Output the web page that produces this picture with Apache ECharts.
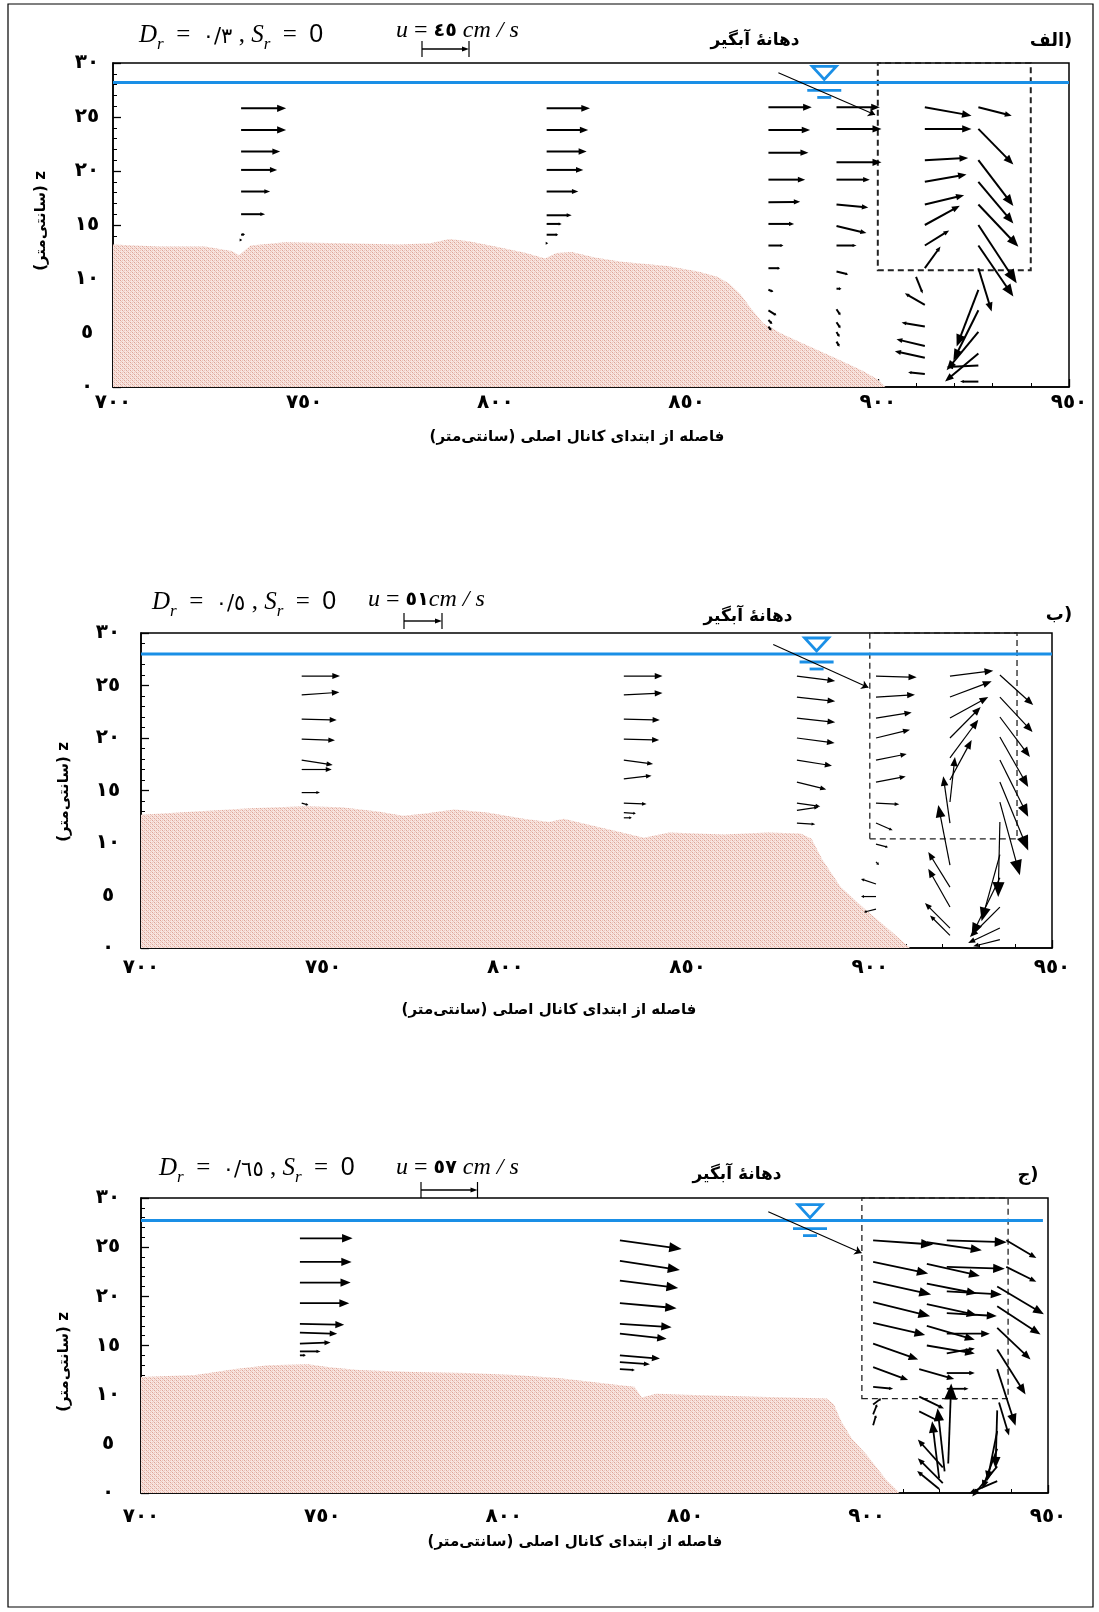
<!DOCTYPE html>
<html><head><meta charset="utf-8">
<script src="https://cdn.jsdelivr.net/npm/echarts@6/dist/echarts.min.js"></script>
<style>html,body{margin:0;padding:0;background:#fff}#c{width:1099px;height:1612px}</style>
</head><body><div id="c"></div>
<script>
// ---------------- DATA ----------------
const xMin = 700, xMax = 950, zMin = 0, zMax = 30;
const xTickStep = 50, zTickStep = 5;

// bed profiles [x (cm), z (cm)]
const bed1 = [[700,13.2],[712,13.0],[724,13.0],[731,12.6],[733,12.2],[736,13.1],[745,13.4],[760,13.3],[775,13.2],[783,13.3],[788,13.7],[793,13.5],[800,13.0],[808,12.4],[813,11.9],[816,12.4],[820,12.5],[826,12.0],[833,11.6],[845,11.2],[853,10.7],[858,10.2],[861,9.6],[864,8.6],[867,7.2],[870,5.9],[875,4.9],[880,4.1],[890,2.5],[896,1.5],[900,0.7],[902,0]];
const bed2 = [[700,12.7],[715,13.0],[730,13.3],[745,13.5],[755,13.4],[765,13.0],[772,12.6],[778,12.8],[786,13.2],[795,12.9],[805,12.3],[812,12.0],[816,12.3],[822,11.8],[832,11.0],[838,10.5],[845,11.0],[860,10.8],[872,11.0],[881,10.9],[884,10.4],[887,8.4],[892,5.8],[899,3.6],[905.5,1.7],[910,0.3],[911,0]];
const bed3 = [[700,11.8],[715,12.0],[726,12.6],[735,13.0],[746,13.1],[752,12.8],[760,12.5],[775,12.3],[790,12.2],[803,12.0],[815,11.7],[831,11.0],[836,10.8],[838,9.7],[842,10.1],[850,10.0],[870,9.8],[889,9.6],[891,9.0],[893,7.3],[896,5.5],[900,3.9],[905.5,1.3],[908,0.4],[909,0]];

// velocity vectors [x (cm), z (cm), u (cm/s), w (cm/s)]
const vec1 = [
 [733.5,25.8,43.1,0],[733.5,23.8,43.1,0],[733.5,21.8,37.4,0],[733.5,20.1,34.5,0],[733.5,18.1,27.8,0],[733.5,16.0,23.0,0],[733.5,14.1,3.8,0.5],[733.5,13.6,1.0,0],
 [813.4,25.8,41.5,0],[813.4,23.8,39.8,0],[813.4,21.8,38.3,0],[813.4,20.1,35.1,0],[813.4,18.1,30.3,0],[813.4,15.9,24.0,0],[813.4,15.1,14.4,0],[813.4,14.1,11.1,0],[813.4,13.3,1.5,0],
 [871.4,25.9,41.5,0],[871.4,23.8,39.9,0],[871.4,21.7,38.3,0],[871.4,19.2,35.2,0],[871.4,17.1,30.4,0.5],[871.4,15.1,24.6,0],[871.4,13.1,14.4,0],[871.4,11.0,11.2,0],[871.4,9.0,4.8,-1.9],[871.4,7.1,7.7,-4.8],[871.4,6.2,3.8,-3.8],[871.4,5.6,2.9,-3.8],
 [889.2,25.9,41.5,0],[889.2,23.9,43.1,0],[889.2,20.8,43.1,0],[889.2,19.2,31.9,0],[889.2,16.9,30.4,-2.9],[889.2,14.9,28.7,-6.7],[889.2,13.1,19.2,0],[889.2,10.7,11.2,-2.9],[889.2,9.1,4.8,0],[889.2,7.2,3.8,-5.7],[889.2,6.0,3.8,-5.7],[889.2,5.1,2.9,-4.8],[889.2,4.2,2.9,-4.8],
 [912.3,25.9,44.7,-8.0],[912.3,23.9,44.7,0],[912.3,21.0,41.5,2.2],[912.3,19.0,39.9,7.0],[912.3,16.9,37.6,8.9],[912.3,15.0,33.5,18.5],[912.3,13.1,23.3,14.4],[912.3,11.0,15.0,20.8],[910,10.2,6.4,-16.0],[912.3,7.6,-19.2,11.2],[912.3,5.6,-22.3,3.8],[912.3,3.8,-27.1,6.4],[912.3,2.7,-28.7,6.4],[912.3,1.2,-16.0,1.6],
 [926.3,25.9,31.9,-8.0],[926.3,23.9,33.5,-34.2],[926.3,21.0,33.5,-43.8],[926.3,19.0,33.5,-39.9],[926.3,16.9,38.3,-40.5],[926.3,15.0,36.7,-55.8],[926.3,13.1,33.5,-48.9],[926.3,11.0,12.7,-41.5],[926.3,9.0,-20.8,-54.3],[926.3,7.1,-23.9,-47.9],[926.3,5.1,-30.4,-36.7],[926.3,3.1,-31.9,-26.8],[926.3,2.0,-30.4,-1.6],[926.3,0.5,-17.5,0]
];
const vec2 = [
 [744.1,25.9,51.4,0],[744.1,24.1,50.6,3.6],[744.1,21.8,47.0,-1.3],[744.1,19.9,44.7,-1.7],[744.1,17.9,41.6,-6.7],[744.1,17.0,40.3,0],[744.1,14.8,24.6,0],[744.1,13.8,9.0,-2.7],
 [832.5,25.9,51.9,0],[832.5,24.1,51.9,2.7],[832.5,21.8,48.3,-1.3],[832.5,19.9,47.4,-1.3],[832.5,17.9,39.3,-5.4],[832.5,16.1,37.2,4.4],[832.5,13.8,30.5,-1.3],[832.5,12.9,16.1,-1.3],[832.5,12.4,10.7,0],
 [880,25.9,51.4,-6.7],[880,23.9,51.4,-5.8],[880,21.9,51.4,-5.8],[880,20.0,50.6,-6.7],[880,17.9,47.0,-7.6],[880,15.8,39.3,-9.8],[880,13.8,31.3,-4.4],[880,13.1,29.1,4.4],[880,11.9,24.6,-1.7],
 [901.7,25.9,54.6,-1.7],[901.7,23.9,52.3,3.1],[901.7,21.9,47.9,7.6],[901.7,20.0,45.6,11.1],[901.7,17.9,41.2,8.1],[901.7,15.8,39.9,7.6],[901.7,13.8,31.3,-1.7],[901.7,11.9,22.4,-9.8],[901.7,9.9,16.1,-4.4],[901.7,8.2,4,-4],[901.7,6.1,-20.1,6.7],[901.7,4.9,-20.1,0],[901.7,3.7,-16.1,-4],
 [922,25.9,58.1,7.1],[922,23.9,56.0,21.1],[922,21.9,51.4,28.2],[922,20.0,41.2,41.6],[922,18.1,38.0,51.4],[922,16.0,29.1,53.7],[922,13.9,6.7,60.4],[922,11.9,-9.0,62.7],[922,7.9,-15.7,80.5],[922,5.8,-29.1,47.0],[922,3.9,-29.1,51.4],[922,1.9,-33.6,33.6],[922,1.2,-26.8,26.8],
 [935.7,26.0,44.7,-40.3],[935.7,23.9,43.9,-47.0],[935.7,22.0,40.3,-53.7],[935.7,20.1,38.0,-67.1],[935.7,17.9,38.0,-76.1],[935.7,15.8,38.0,-91.7],[935.7,13.9,26.8,-98.4],[935.7,12.0,-2.3,-100.7],[935.7,8.9,-24.6,-89.5],[935.7,6.7,-38.0,-78.3],[935.7,3.9,-40.3,-40.3],[935.7,1.9,-42.6,-20.1],[935.7,0.8,-35.8,-9.0]
];
const vec3 = [
 [743.8,25.9,53.2,0],[743.8,23.5,52.2,0],[743.8,21.4,51.2,0],[743.8,19.3,49.8,0],[743.8,17.2,44.7,-1],[743.8,16.3,37.6,-1],[743.8,15.2,31.0,1],[743.8,14.4,20.9,0],[743.8,14.0,6,0],
 [832,25.7,62.3,-8.8],[832,23.6,60.5,-9.1],[832,21.6,58.8,-7.4],[832,19.3,57.2,-5],[832,17.2,52.2,-3.3],[832,16.2,47.1,-5],[832,14.0,40.4,-3.3],[832,13.3,30.3,-2],[832,12.6,15.1,-1],
 [901.8,25.7,60.5,-4.3],[901.8,23.5,55.5,-11.8],[901.8,21.5,58.5,-13.1],[901.8,19.4,57.5,-14.1],[901.8,17.3,52.5,-12.1],[901.8,15.2,45.4,-16.1],[901.8,12.8,35.3,-13.1],[901.8,10.8,20.2,-2],[901.8,9.0,8.1,6.1],[901.8,8.0,4,10.1],[901.8,6.9,3,10.1],
 [916.6,25.5,55.5,-8.1],[916.6,23.3,53.5,-12.1],[916.6,21.3,50.5,-10.1],[916.6,19.2,50.5,-11.1],[916.6,17.0,48.4,-14.1],[916.6,15.0,48.4,-8.1],[914.5,12.6,35.3,-10.1],[914.5,9.8,25,-12],[914.5,8.3,20,-10],
 [922.1,25.7,60.5,-2],[922.1,23.0,58.5,-2],[922.1,20.5,55.5,-3],[922.1,18.3,50.5,-3],[922.1,16.2,43.4,0],[922.1,14.2,28.3,5],[922.1,12.2,28.3,0],[922.1,10.6,22,0],[922.5,3.0,3,80.7],[921.5,2.2,-7.1,63.6],[920,1.5,-7.1,57.5],[921,2.6,-25.2,28.3],[921,1.0,-25.2,25.2],[920,0.4,-22.2,18.2],
 [938.5,25.7,30.3,-17.9],[938.5,23.0,30.3,-15.1],[936,21.0,47.1,-28],[936,19.0,43.7,-28.6],[936,16.8,33.6,-32],[936,14.6,28.6,-45.4],[936,12.6,18.5,-57.2],[936.5,9.2,10.1,-33.3],[936,8.4,-1.7,-58.5],[936,6.3,-10.1,-50.5],[936,4.5,-15.1,-40.4],[936,2.7,-25.2,-30.3],[936,1.2,-28.3,-12.1]
];

const waterLevel = [28.2, 28.0, 27.7];
const waterEnd = [950, 950, 948.6];
const intakeBox = [[[900,10.8],[940,30]], [[900,10.4],[940.4,30]], [[898.7,9.6],[939,30]]];
const mouthPointer = [[[874,29.1],[899.3,25.2]], [[873.5,28.9],[899.6,24.8]], [[872.9,28.6],[898.6,24.4]]];
const waterSymbolX = [886, 885.4, 884.4];
const refSpeed = [45, 51, 57];
const drLabel = ['٠/٣', '٠/٥', '٠/٦٥'];
const panelTag = ['الف)', 'ب)', 'ج)'];
const mouthLabel = 'دهانهٔ آبگیر';
const bedLabel = 'بستر فرسایش‌پذیر';
const xTitle = 'فاصله از ابتدای کانال اصلی (سانتی‌متر)';
const yTitle = 'z (سانتی‌متر)';

// ---------------- LAYOUT / STYLE ----------------
const LAY = [
 {grid:{left:113,top:63,width:956,height:324}, xMargin:6, yMargin:26, barPx:47, lw:2.0, boxW:2,
  dr:[139,38], u:[396,31], uSep:' ', bar:[422,49], mouth:[755,41], tag:[1051,41], yt:[41,221], xt:[577,437], bl:[162,311,188,39]},
 {grid:{left:141,top:633,width:911,height:315}, xMargin:10, yMargin:33, barPx:38, lw:1.2, boxW:1.3,
  dr:[152,605], u:[368,600], uSep:'', bar:[404,621], mouth:[748,617], tag:[1059,615], yt:[64,792], xt:[549,1010], bl:[161,879,194,41]},
 {grid:{left:141,top:1198,width:907,height:295}, xMargin:14, yMargin:33, barPx:56.5, lw:1.8, boxW:1.3,
  dr:[159,1171], u:[396,1168], uSep:' ', bar:[421,1190], mouth:[737,1175], tag:[1028,1175], yt:[64,1362], xt:[575,1542], bl:[162,1437,193,40]}
];
const BLUE = '#1a8fe6';
const FA = '٠١٢٣٤٥٦٧٨٩';
const fa = v => String(v).replace(/\d/g, d => FA[d]);
const RTL = s => '\u202B' + s + '\u202C';
const FONT = '"DejaVu Sans", sans-serif';

function makePattern(){
  const c = document.createElement('canvas'); c.width = 4; c.height = 4;
  const g = c.getContext('2d');
  g.fillStyle = '#f8e5e0'; g.fillRect(0,0,4,4);
  g.fillStyle = '#dda497';
  g.fillRect(0,0,1,1); g.fillRect(2,2,1,1);
  g.fillStyle = '#ecc5bb';
  g.fillRect(1,1,1,1); g.fillRect(3,3,1,1); g.fillRect(2,0,1,1); g.fillRect(0,2,1,1);
  return c;
}
const bedPattern = {image: makePattern(), repeat: 'repeat'};

function arrowRender(k, lw){
  return function(params, api){
    const p = api.coord([api.value(0), api.value(1)]);
    const dx = api.value(2) * k, dy = -api.value(3) * k;
    const Ln = Math.hypot(dx, dy);
    if (Ln < 0.3) return;
    const ux = dx / Ln, uy = dy / Ln;
    const h = Math.max(2.5, 0.2 * Ln), hw = Math.max(1.5, 0.08 * Ln);
    const tx = p[0] + dx, ty = p[1] + dy;
    const bx = tx - ux * h, by = ty - uy * h;
    return {type:'group', children:[
      {type:'line', shape:{x1:p[0], y1:p[1], x2:bx + ux, y2:by + uy}, style:{stroke:'#000', lineWidth:lw}},
      {type:'polygon', shape:{points:[[tx,ty],[bx - uy*hw, by + ux*hw],[bx + uy*hw, by - ux*hw]]}, style:{fill:'#000'}}
    ]};
  };
}
function waterSym(params, api){
  const p = api.coord([api.value(0), api.value(1)]);
  const x = p[0], y = p[1];
  return {type:'group', children:[
    {type:'polygon', shape:{points:[[x-12,y-16],[x+12,y-16],[x,y-3]]}, style:{fill:'#fff', stroke:BLUE, lineWidth:2.8}},
    {type:'line', shape:{x1:x-17,y1:y+8,x2:x+17,y2:y+8}, style:{stroke:BLUE, lineWidth:2.8}},
    {type:'line', shape:{x1:x-7,y1:y+15,x2:x+7,y2:y+15}, style:{stroke:BLUE, lineWidth:2.8}}
  ]};
}

const beds = [bed1, bed2, bed3], vecs = [vec1, vec2, vec3];
const grids = [], xAxes = [], yAxes = [], series = [], graphics = [];

graphics.push({type:'rect', shape:{x:8, y:4, width:1085, height:1603}, style:{fill:'none', stroke:'#000', lineWidth:1.2}, silent:true});

LAY.forEach((P, i) => {
  grids.push(Object.assign({show:true, borderColor:'#000', borderWidth:1.5, containLabel:false}, P.grid));
  xAxes.push({type:'value', gridIndex:i, min:xMin, max:xMax, interval:xTickStep,
    axisLine:{show:true, onZero:false, lineStyle:{color:'#000', width:1.5}},
    axisTick:{show:true, inside:true, length:8, lineStyle:{color:'#000', width:1.3}},
    minorTick:{show:true, splitNumber:5, length:4, lineStyle:{color:'#000', width:1}},
    splitLine:{show:false},
    axisLabel:{margin:P.xMargin, formatter:v => fa(v), color:'#000', fontFamily:FONT, fontWeight:'bold', fontSize:20}});
  yAxes.push({type:'value', gridIndex:i, min:zMin, max:zMax, interval:zTickStep,
    axisLine:{show:true, onZero:false, lineStyle:{color:'#000', width:1.5}},
    axisTick:{show:true, inside:true, length:8, lineStyle:{color:'#000', width:1.3}},
    minorTick:{show:true, splitNumber:5, length:4, lineStyle:{color:'#000', width:1}},
    splitLine:{show:false},
    axisLabel:{margin:P.yMargin, align:'center', formatter:v => fa(v), color:'#000', fontFamily:FONT, fontWeight:'bold', fontSize:20}});

  series.push({type:'line', xAxisIndex:i, yAxisIndex:i, data:beds[i], showSymbol:false, symbol:'none', silent:true,
    lineStyle:{width:0}, areaStyle:{color:bedPattern, opacity:1, origin:'start'}, z:1,
    markArea:{silent:true, label:{show:false},
      itemStyle:{color:'rgba(0,0,0,0)', borderColor:'#222', borderWidth:P.boxW, borderType:[6,4]},
      data:[[{coord:intakeBox[i][0]}, {coord:intakeBox[i][1]}]]}});
  series.push({type:'line', xAxisIndex:i, yAxisIndex:i, data:[[xMin, waterLevel[i]], [waterEnd[i], waterLevel[i]]],
    symbol:'none', silent:true, lineStyle:{color:BLUE, width:3}, z:2});
  series.push({type:'custom', xAxisIndex:i, yAxisIndex:i, data:[[waterSymbolX[i], waterLevel[i]]], renderItem:waterSym, silent:true, z:3});
  series.push({type:'lines', coordinateSystem:'cartesian2d', xAxisIndex:i, yAxisIndex:i, silent:true, z:4,
    data:[{coords:mouthPointer[i]}], symbol:['none','arrow'], symbolSize:[0,7], lineStyle:{color:'#000', width:1.1, opacity:1}});
  const k = P.barPx / refSpeed[i];
  series.push({type:'custom', xAxisIndex:i, yAxisIndex:i, data:vecs[i], encode:{x:0, y:1}, renderItem:arrowRender(k, P.lw), silent:true, z:5, clip:false});

  // texts
  const drRich = {
    i:{fontFamily:'"Liberation Serif", serif', fontStyle:'italic', fontSize:25, lineHeight:30, verticalAlign:'top'},
    s:{fontFamily:'"Liberation Serif", serif', fontStyle:'italic', fontSize:17, lineHeight:17, verticalAlign:'bottom'},
    e:{fontFamily:'"Liberation Serif", serif', fontSize:25, lineHeight:30, verticalAlign:'top'},
    a:{fontFamily:FONT, fontSize:21, lineHeight:30, verticalAlign:'top', padding:[4,0,0,0]},
    z:{fontFamily:'"Liberation Sans", sans-serif', fontSize:25, lineHeight:30, verticalAlign:'top'}
  };
  graphics.push({type:'text', x:P.dr[0], y:P.dr[1], silent:true,
    style:{text:'{i|D}{s|r}{e|  =  }{a|' + drLabel[i] + '}{e| , }{i|S}{s|r}{e|  =  }{z|0}', rich:drRich, align:'left', verticalAlign:'middle'}});
  graphics.push({type:'text', x:P.u[0], y:P.u[1], silent:true,
    style:{text:'{i|u}{e| = }{a|' + fa(refSpeed[i]) + '}{i|' + P.uSep + 'cm / s}', rich:{
      i:{fontFamily:'"Liberation Serif", serif', fontStyle:'italic', fontSize:24, lineHeight:26},
      e:{fontFamily:'"Liberation Serif", serif', fontSize:24, lineHeight:26},
      a:{fontFamily:FONT, fontWeight:'bold', fontSize:19, lineHeight:26}}, align:'left', verticalAlign:'middle'}});
  // reference vector (scale bar)
  const bx = P.bar[0], by = P.bar[1], bl = P.barPx;
  graphics.push({type:'group', silent:true, children:[
    {type:'line', shape:{x1:bx, y1:by, x2:bx+bl-6, y2:by}, style:{stroke:'#000', lineWidth:1.4}},
    {type:'polygon', shape:{points:[[bx+bl,by],[bx+bl-7,by-2.5],[bx+bl-7,by+2.5]]}, style:{fill:'#000'}},
    {type:'line', shape:{x1:bx, y1:by-8, x2:bx, y2:by+8}, style:{stroke:'#000', lineWidth:1.2}},
    {type:'line', shape:{x1:bx+bl, y1:by-8, x2:bx+bl, y2:by+8}, style:{stroke:'#000', lineWidth:1.2}}
  ]});
  graphics.push({type:'text', x:P.mouth[0], y:P.mouth[1], silent:true,
    style:{text:RTL(mouthLabel), font:'bold 17px ' + FONT, fill:'#000', align:'center', verticalAlign:'middle'}});
  graphics.push({type:'text', x:P.tag[0], y:P.tag[1], silent:true,
    style:{text:panelTag[i], font:'bold 18px ' + FONT, fill:'#000', align:'center', verticalAlign:'middle'}});
  graphics.push({type:'text', x:P.yt[0], y:P.yt[1], rotation:Math.PI/2, silent:true,
    style:{text:RTL(yTitle), font:'bold 15px ' + FONT, fill:'#000', align:'center', verticalAlign:'middle'}});
  graphics.push({type:'text', x:P.xt[0], y:P.xt[1], silent:true,
    style:{text:RTL(xTitle), font:'bold 15px ' + FONT, fill:'#000', align:'center', verticalAlign:'middle'}});
  graphics.push({type:'group', silent:true, children:[
    {type:'rect', shape:{x:P.bl[0], y:P.bl[1], width:P.bl[2], height:P.bl[3]}, style:{fill:'#fff'}},
    {type:'text', x:P.bl[0] + P.bl[2]/2, y:P.bl[1] + P.bl[3]/2,
      style:{text:RTL(bedLabel), font:'bold 16px ' + FONT, fill:'#000', align:'center', verticalAlign:'middle'}}
  ]});
});

const chart = echarts.init(document.getElementById('c'), null, {renderer:'canvas'});
chart.setOption({
  animation:false,
  backgroundColor:'#fff',
  grid:grids, xAxis:xAxes, yAxis:yAxes, series:series, graphic:graphics
});
</script></body></html>
